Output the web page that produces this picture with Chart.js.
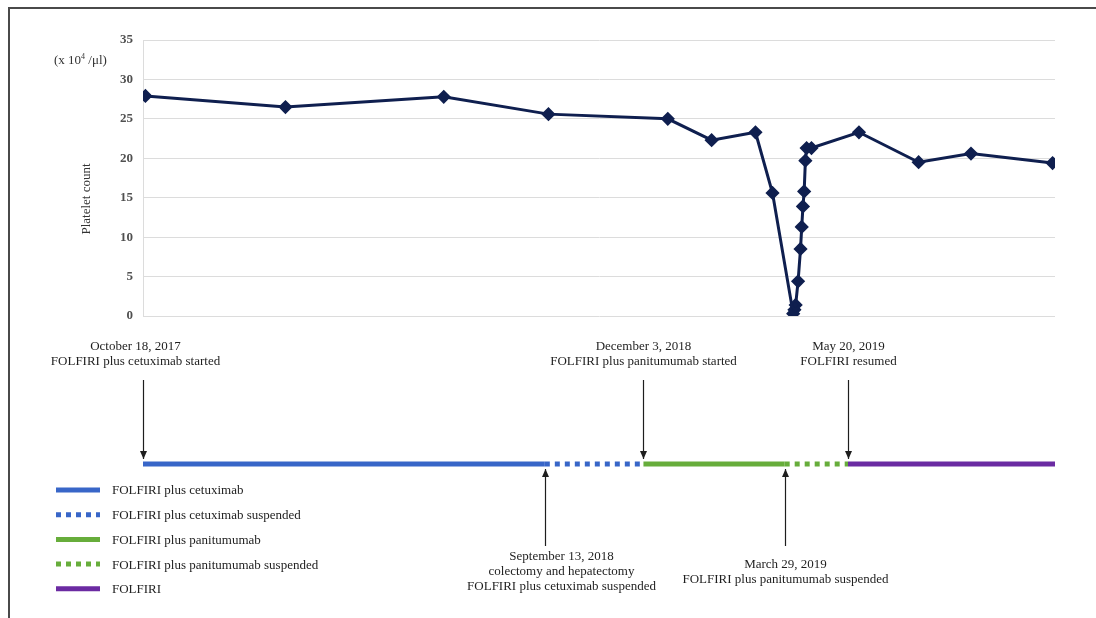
<!DOCTYPE html>
<html>
<head>
<meta charset="utf-8">
<script src="https://cdn.jsdelivr.net/npm/chart.js@4"></script>
<style>
  html, body { margin: 0; padding: 0; background: #fff; }
  #wrap { position: relative; width: 1096px; height: 618px; overflow: hidden; }
  #frame { position: absolute; left: 8px; top: 7px; right: -4px; bottom: -4px; border-top: 2px solid #4a4a4a; border-left: 2px solid #4a4a4a; }
  canvas { position: absolute; left: 0; top: 0; }
  .lbl { position: absolute; font-family: "Liberation Serif", serif; color: #333; white-space: nowrap; }
  #unit { left: 54px; top: 52px; font-size: 13px; }
  #ytitle { left: 86px; top: 199px; font-size: 13px; transform: translate(-50%, -50%) rotate(-90deg); }
</style>
</head>
<body>
<div id="wrap">
  <div id="frame"></div>
  <canvas id="plateletChart" width="1096" height="618"></canvas>
  <canvas id="timelineChart" width="1096" height="618"></canvas>
  <div class="lbl" id="unit">(x 10<sup style="font-size:8px">4</sup> /μl)</div>
  <div class="lbl" id="ytitle">Platelet count</div>
</div>
<script>
// days counted from October 18, 2017
const sampleDays = [2, 117, 247, 333, 431, 467, 503, 517, 534, 535, 536, 538, 540, 541, 542, 543, 544, 545, 549, 588, 637, 680, 747];
const plateletCounts = [27.9, 26.5, 27.8, 25.6, 25.0, 22.3, 23.3, 15.6, 0.3, 0.8, 1.4, 4.4, 8.5, 11.3, 13.9, 15.8, 19.7, 21.3, 21.3, 23.3, 19.5, 20.6, 19.4];
const yTicks = [0, 5, 10, 15, 20, 25, 30, 35];
const lastDay = 749;

const phaseNames = ['FOLFIRI plus cetuximab', 'FOLFIRI plus cetuximab suspended', 'FOLFIRI plus panitumumab', 'FOLFIRI plus panitumumab suspended', 'FOLFIRI'];
const phaseStart = [0, 330, 411, 527, 579];
const phaseEnd = [330, 411, 527, 579, 749];
const phaseColors = ['#3866c8', '#3866c8', '#67ad3b', '#67ad3b', '#6b2ba2'];
const phaseDashed = [false, true, false, true, false];

const eventDays = [0, 330, 411, 527, 579];
const eventLabels = [
  ['October 18, 2017', 'FOLFIRI plus cetuximab started'],
  ['September 13, 2018', 'colectomy and hepatectomy', 'FOLFIRI plus cetuximab suspended'],
  ['December 3, 2018', 'FOLFIRI plus panitumumab started'],
  ['March 29, 2019', 'FOLFIRI plus panitumumab suspended'],
  ['May 20, 2019', 'FOLFIRI resumed']
];
const eventFromAbove = [true, false, true, false, true];

const serif = '"Liberation Serif", "Times New Roman", serif';
const navy = '#0f1f4f';

// platelet line chart
new Chart(document.getElementById('plateletChart').getContext('2d'), {
  type: 'line',
  data: {
    datasets: [{
      data: sampleDays.map((d, i) => ({ x: d, y: plateletCounts[i] })),
      borderColor: navy,
      backgroundColor: navy,
      borderWidth: 3,
      pointStyle: 'rectRot',
      pointRadius: 5,
      pointBackgroundColor: navy,
      pointBorderColor: navy,
      tension: 0
    }]
  },
  options: {
    responsive: false,
    animation: false,
    events: [],
    layout: { padding: { left: 0, right: 41, top: 40, bottom: 302 } },
    plugins: { legend: { display: false }, tooltip: { enabled: false } },
    scales: {
      x: { type: 'linear', min: 0, max: lastDay, display: false },
      y: {
        min: 0, max: 35,
        afterFit: (s) => { s.width = 143; },
        afterBuildTicks: (s) => { s.ticks = yTicks.map(v => ({ value: v })); },
        grid: { color: '#dcdcdc', lineWidth: 1, drawTicks: false },
        border: { color: '#dcdcdc', width: 1 },
        ticks: { padding: 10, color: '#505050', font: { family: serif, size: 13, weight: 'bold' } }
      }
    }
  }
});

// treatment timeline with arrows, notes and legend
const timelinePlugin = {
  id: 'timelineNotes',
  afterDraw(chart, args, opts) {
    const ctx = chart.ctx;
    const xs = chart.scales.x, ys = chart.scales.y;
    const lineY = ys.getPixelForValue(opts.level);
    ctx.save();
    ctx.fillStyle = '#1e1e1e';
    ctx.strokeStyle = '#1e1e1e';
    ctx.lineWidth = 1.2;
    ctx.font = '13px ' + serif;
    ctx.textAlign = 'center';
    ctx.textBaseline = 'middle';
    eventDays.forEach((d, i) => {
      const x = Math.round(xs.getPixelForValue(d)) + 0.5;
      const down = eventFromAbove[i];
      const tip = down ? lineY - 5 : lineY + 5;
      const tail = down ? lineY - 84 : lineY + 82;
      ctx.beginPath();
      ctx.moveTo(x, tail);
      ctx.lineTo(x, tip);
      ctx.stroke();
      const dir = down ? 1 : -1;
      ctx.beginPath();
      ctx.moveTo(x, tip);
      ctx.lineTo(x - 3.5, tip - dir * 8);
      ctx.lineTo(x + 3.5, tip - dir * 8);
      ctx.closePath();
      ctx.fill();
      const lines = eventLabels[i];
      const center = down ? opts.topTextCenter : opts.bottomTextCenter;
      const y0 = center - (lines.length - 1) * opts.lineGap / 2;
      lines.forEach((t, k) => ctx.fillText(t, x + opts.labelShift[i], y0 + k * opts.lineGap));
    });
    // legend
    ctx.textAlign = 'left';
    chart.data.datasets.forEach((ds, i) => {
      const y = opts.legendTop + i * opts.legendGap;
      ctx.save();
      ctx.strokeStyle = ds.borderColor;
      ctx.lineWidth = 5;
      ctx.setLineDash(ds.borderDash || []);
      ctx.beginPath();
      ctx.moveTo(opts.legendX, y);
      ctx.lineTo(opts.legendX + 44, y);
      ctx.stroke();
      ctx.restore();
      ctx.fillStyle = '#222';
      ctx.fillText(ds.label, opts.legendX + 56, y + 1);
    });
    ctx.restore();
  }
};

new Chart(document.getElementById('timelineChart').getContext('2d'), {
  type: 'line',
  data: {
    datasets: phaseNames.map((name, i) => ({
      label: name,
      data: [{ x: phaseStart[i], y: 134 }, { x: phaseEnd[i], y: 134 }],
      borderColor: phaseColors[i],
      borderWidth: 5,
      borderDash: phaseDashed[i] ? [5, 5] : [],
      borderCapStyle: 'butt',
      pointRadius: 0
    }))
  },
  options: {
    responsive: false,
    animation: false,
    events: [],
    layout: { padding: { left: 143, right: 41, top: 330, bottom: 8 } },
    plugins: {
      legend: { display: false },
      tooltip: { enabled: false },
      timelineNotes: {
        level: 134,
        topTextCenter: 354,
        bottomTextCenter: 572,
        lineGap: 15,
        labelShift: [-8, 16, 0, 0, 0],
        legendTop: 490,
        legendGap: 24.7,
        legendX: 56
      }
    },
    scales: {
      x: { type: 'linear', min: 0, max: lastDay, display: false },
      y: { min: 0, max: 280, reverse: true, display: false }
    }
  },
  plugins: [timelinePlugin]
});
</script>
</body>
</html>
